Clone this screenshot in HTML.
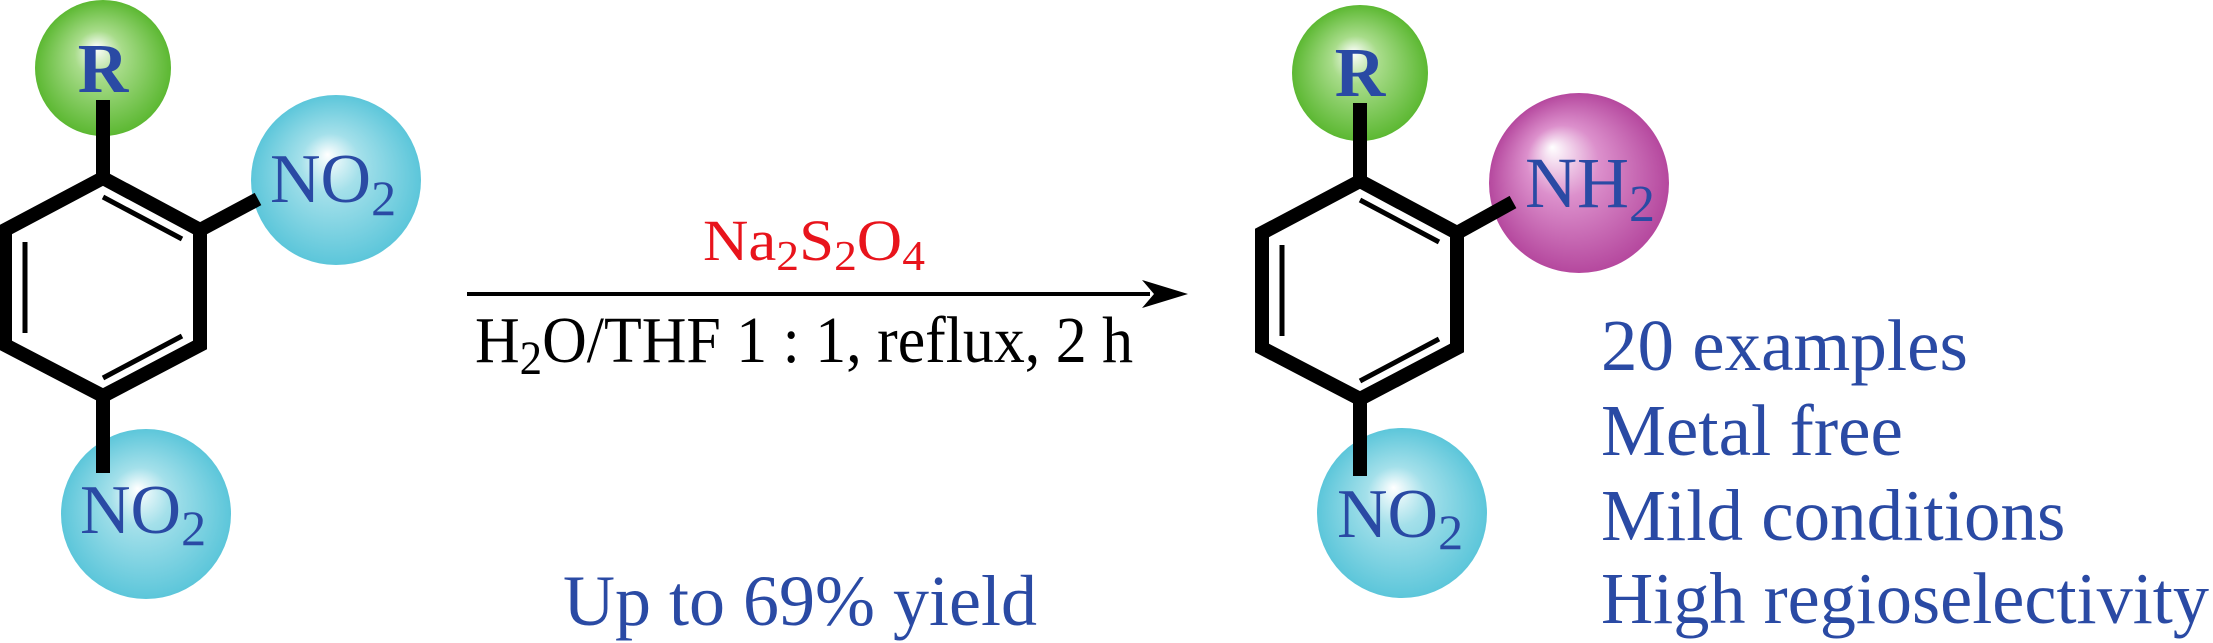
<!DOCTYPE html>
<html><head><meta charset="utf-8"><style>html,body{margin:0;padding:0;background:#fff}svg{display:block}</style></head>
<body>
<svg width="2213" height="643" viewBox="0 0 2213 643" xmlns="http://www.w3.org/2000/svg">
<defs>
<radialGradient id="gG" cx="0.5" cy="0.5" r="0.5" fx="0.45" fy="0.35"><stop offset="0" stop-color="#ffffff"/><stop offset="0.35" stop-color="#a8dc8a"/><stop offset="1" stop-color="#5cb832"/></radialGradient>
<radialGradient id="gC" cx="0.5" cy="0.5" r="0.5" fx="0.45" fy="0.35"><stop offset="0" stop-color="#ffffff"/><stop offset="0.35" stop-color="#a4e0ea"/><stop offset="1" stop-color="#5cc6da"/></radialGradient>
<radialGradient id="gP" cx="0.5" cy="0.5" r="0.5" fx="0.35" fy="0.3"><stop offset="0" stop-color="#ffffff"/><stop offset="0.4" stop-color="#dc90cc"/><stop offset="1" stop-color="#b5489e"/></radialGradient>
</defs>
<g style="font-family:'Liberation Serif', serif" fill="#2a4aa4">
<!-- left molecule -->
<circle cx="103" cy="68" r="68" fill="url(#gG)"/>
<circle cx="336" cy="180" r="85" fill="url(#gC)"/>
<circle cx="146" cy="514" r="85" fill="url(#gC)"/>
<g stroke="#000" stroke-width="14" fill="none" stroke-linejoin="miter">
<polygon points="103,178 200,230 200,345 103,396 5,345 5,230"/>
<line x1="103" y1="100" x2="103" y2="178"/>
<line x1="200" y1="230" x2="258" y2="199"/>
<line x1="103" y1="396" x2="103" y2="473"/>
</g>
<g stroke="#000" stroke-width="5">
<line x1="103" y1="197" x2="182" y2="239"/>
<line x1="25" y1="242" x2="25" y2="333"/>
<line x1="103" y1="378" x2="182" y2="336"/>
</g>
<text x="103" y="92" font-size="70" font-weight="bold" text-anchor="middle">R</text>
<text x="270" y="202" font-size="70">NO<tspan font-size="50" dy="13">2</tspan></text>
<text x="80" y="533" font-size="70">NO<tspan font-size="50" dy="12">2</tspan></text>

<!-- arrow -->
<line x1="467" y1="294" x2="1150" y2="294" stroke="#000" stroke-width="4"/>
<path d="M1188,294 L1142,280 L1154,294 L1142,308 Z" fill="#000"/>
<text x="703" y="260" font-size="58" fill="#e8141c" textLength="222" lengthAdjust="spacingAndGlyphs">Na<tspan font-size="42" dy="10">2</tspan><tspan dy="-10">S</tspan><tspan font-size="42" dy="10">2</tspan><tspan dy="-10">O</tspan><tspan font-size="42" dy="10">4</tspan></text>
<text x="475" y="362" font-size="66" fill="#000" textLength="658" lengthAdjust="spacingAndGlyphs">H<tspan font-size="48" dy="12">2</tspan><tspan dy="-12">O/THF 1 : 1, reflux, 2 h</tspan></text>
<text x="563" y="625" font-size="72" textLength="474" lengthAdjust="spacingAndGlyphs">Up to 69% yield</text>

<!-- right molecule -->
<circle cx="1360" cy="73" r="68" fill="url(#gG)"/>
<circle cx="1579" cy="183" r="90" fill="url(#gP)"/>
<circle cx="1402" cy="513" r="85" fill="url(#gC)"/>
<g transform="translate(1257,3)">
<g stroke="#000" stroke-width="14" fill="none">
<polygon points="103,178 200,230 200,345 103,396 5,345 5,230"/>
<line x1="103" y1="100" x2="103" y2="178"/>
<line x1="200" y1="230" x2="256" y2="199"/>
<line x1="103" y1="396" x2="103" y2="473"/>
</g>
<g stroke="#000" stroke-width="5">
<line x1="103" y1="197" x2="182" y2="239"/>
<line x1="25" y1="242" x2="25" y2="333"/>
<line x1="103" y1="378" x2="182" y2="336"/>
</g>
</g>
<text x="1360" y="96" font-size="70" font-weight="bold" text-anchor="middle">R</text>
<text x="1525" y="207" font-size="72">NH<tspan font-size="52" dy="14">2</tspan></text>
<text x="1337" y="537" font-size="70">NO<tspan font-size="50" dy="12">2</tspan></text>

<text x="1601" y="370" font-size="73">20 examples</text>
<text x="1601" y="455" font-size="73">Metal free</text>
<text x="1601" y="540" font-size="73">Mild conditions</text>
<text x="1601" y="623" font-size="73" textLength="608" lengthAdjust="spacingAndGlyphs">High regioselectivity</text>
</g>
</svg>
</body></html>
